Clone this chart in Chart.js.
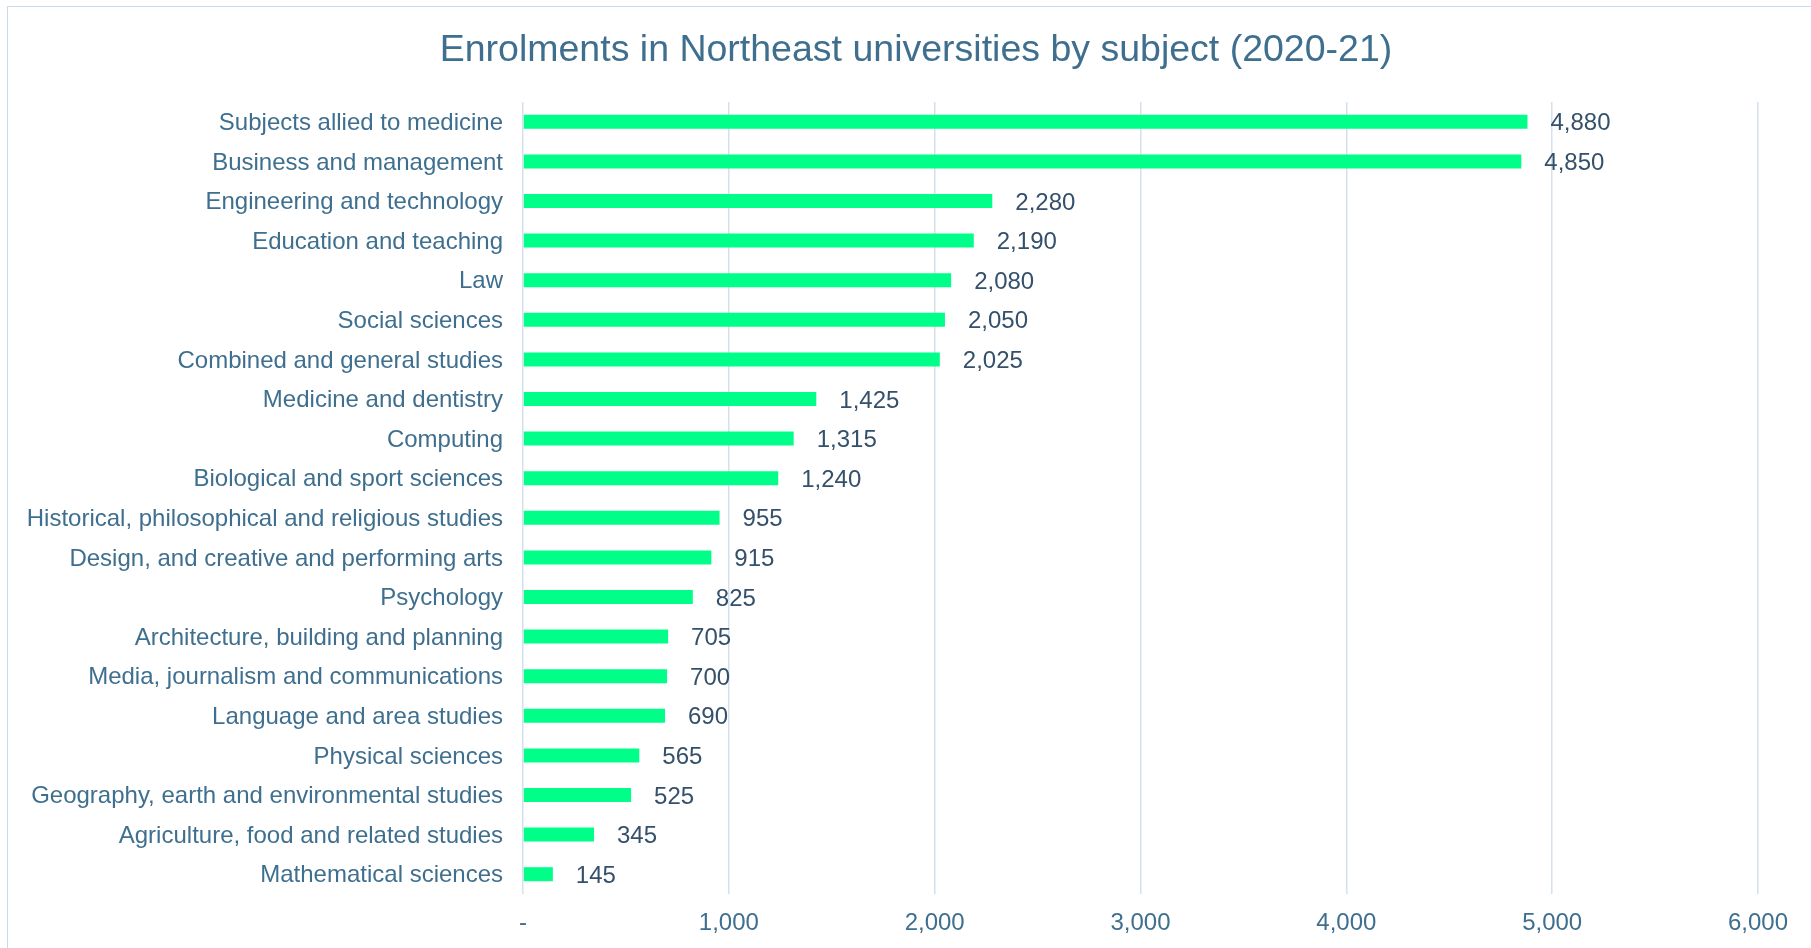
<!DOCTYPE html>
<html>
<head>
<meta charset="utf-8">
<title>Enrolments by subject</title>
<script src="https://cdn.jsdelivr.net/npm/chart.js@4.4.0/dist/chart.umd.min.js"></script>
<style>
  html, body { margin: 0; padding: 0; background: #fff; overflow: hidden; }
  #frame {
    position: absolute; left: 7px; top: 6px;
    width: 1900px; height: 1000px;
    border: 1.5px solid #cddbe9;
  }
  #wrap { position: absolute; left: 0; top: 0; width: 1811px; height: 948px; }
</style>
</head>
<body>
<div id="frame"></div>
<div id="wrap"><canvas id="myChart" width="1811" height="948"></canvas></div>
<script>
// subjects, largest first
var subjects = [
    'Subjects allied to medicine',
    'Business and management',
    'Engineering and technology',
    'Education and teaching',
    'Law',
    'Social sciences',
    'Combined and general studies',
    'Medicine and dentistry',
    'Computing',
    'Biological and sport sciences',
    'Historical, philosophical and religious studies',
    'Design, and creative and performing arts',
    'Psychology',
    'Architecture, building and planning',
    'Media, journalism and communications',
    'Language and area studies',
    'Physical sciences',
    'Geography, earth and environmental studies',
    'Agriculture, food and related studies',
    'Mathematical sciences'
];
var enrolments = [4880, 4850, 2280, 2190, 2080, 2050, 2025, 1425, 1315, 1240,
                  955, 915, 825, 705, 700, 690, 565, 525, 345, 145];
var xTicks = ['-', '1,000', '2,000', '3,000', '4,000', '5,000', '6,000'];
var chartTitle = 'Enrolments in Northeast universities by subject (2020-21)';

var FONT = "'Liberation Sans', Arial, sans-serif";

// heading, centred a little right of the canvas middle
var heading = {
    id: 'heading',
    afterDraw: function(chart) {
        var ctx = chart.ctx;
        ctx.save();
        ctx.font = '37.5px ' + FONT;
        ctx.fillStyle = '#3f6f8f';
        ctx.textAlign = 'center';
        ctx.textBaseline = 'middle';
        ctx.fillText(chartTitle, 916, 51);
        ctx.restore();
    }
};

// writes the number at the end of each bar
var barValues = {
    id: 'barValues',
    afterDatasetsDraw: function(chart) {
        var ctx = chart.ctx;
        var meta = chart.getDatasetMeta(0);
        ctx.save();
        ctx.font = '24px ' + FONT;
        ctx.fillStyle = '#34506a';
        ctx.textAlign = 'left';
        ctx.textBaseline = 'middle';
        meta.data.forEach(function(bar, i) {
            ctx.fillText(enrolments[i].toLocaleString('en-US'), bar.x + 23, bar.y + 2);
        });
        ctx.restore();
    }
};

document.addEventListener("DOMContentLoaded", function() {
    var ctx = document.getElementById('myChart').getContext('2d');
    new Chart(ctx, {
        type: 'bar',
        data: {
            labels: subjects,
            datasets: [{
                data: enrolments,
                backgroundColor: '#00ff88',
                borderWidth: 0,
                barPercentage: 0.354,
                categoryPercentage: 1
            }]
        },
        options: {
            indexAxis: 'y',
            responsive: false,
            animation: false,
            layout: { padding: { left: 0, right: 53, top: 102, bottom: 0 } },
            scales: {
                x: {
                    min: 0,
                    max: 6000,
                    border: { display: false },
                    grid: { color: '#d4e0ec', lineWidth: 1.5, drawTicks: false },
                    ticks: {
                        stepSize: 1000,
                        padding: 15,
                        color: '#3f6f8f',
                        font: { family: FONT, size: 24 },
                        callback: function(v) { return xTicks[v / 1000]; }
                    },
                    afterFit: function(scale) { scale.height = 54; }
                },
                y: {
                    border: { display: false },
                    grid: { display: false, drawTicks: false },
                    ticks: {
                        padding: 20,
                        labelOffset: 1.5,
                        color: '#3f6f8f',
                        font: { family: FONT, size: 24 }
                    },
                    afterFit: function(scale) { scale.width = 523; }
                }
            },
            plugins: {
                legend: { display: false },
                tooltip: { enabled: false },
                title: { display: false }
            }
        },
        plugins: [barValues, heading]
    });
});
</script>
</body>
</html>
